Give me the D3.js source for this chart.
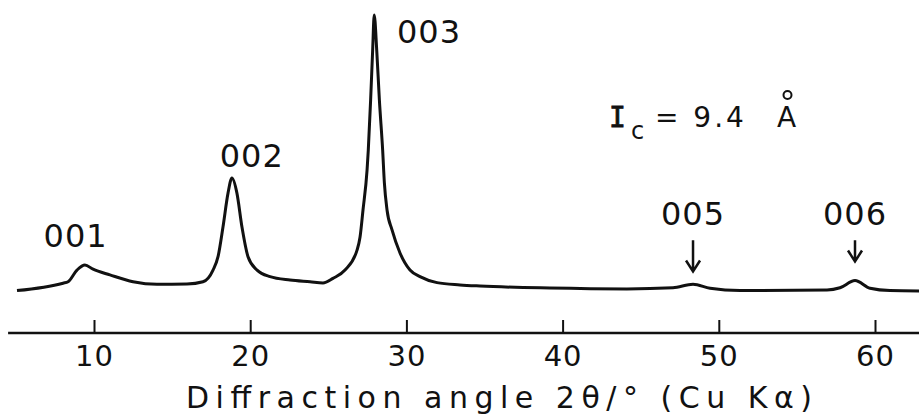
<!DOCTYPE html>
<html>
<head>
<meta charset="utf-8">
<script src="https://cdn.jsdelivr.net/npm/d3@7"></script>
<style>
  html, body { margin: 0; padding: 0; background: #fff; }
  svg { display: block; }
  text { font-family: "DejaVu Sans", "Liberation Sans", sans-serif; fill: #111; }
</style>
</head>
<body>
<svg id="chart" width="919" height="416"></svg>
<script>
// ---- data ----
const twoTheta = [5.07, 8.02, 8.34, 8.91, 9.42, 9.94, 11.02, 12.50, 14.03, 15.95, 16.98, 17.62, 17.94, 18.26, 18.58, 18.83, 19.15, 19.47, 19.86, 20.44, 21.27, 22.55, 23.83, 24.66, 25.30, 26.07, 26.84, 27.03, 27.22, 27.48, 27.56, 27.71, 27.84, 27.94, 28.10, 28.27, 28.48, 28.59, 28.76, 29.08, 29.59, 30.23, 30.87, 31.96, 33.43, 34.71, 39.19, 44.12, 47.07, 48.35, 49.44, 51.36, 56.93, 57.76, 58.72, 59.68, 60.96, 62.82];
const intensity = [3.3, 5.9, 6.4, 10.5, 12.3, 10.8, 8.8, 6.4, 5.5, 5.6, 6.4, 10.5, 15.2, 25.7, 37.5, 42.8, 37.5, 25.7, 15.2, 10.5, 8.2, 7.0, 6.4, 6.0, 7.6, 10.5, 17.5, 22.0, 31.5, 45.5, 52.6, 70.2, 87.7, 100, 87.7, 70.2, 52.6, 41.1, 31.6, 24.6, 16.5, 10.5, 8.2, 6.1, 5.3, 4.9, 4.2, 3.9, 4.3, 5.5, 4.1, 3.3, 3.5, 4.3, 6.8, 4.1, 3.3, 3.2];
const tickValues = [10, 20, 30, 40, 50, 60];
const peakLabels = ["001", "002", "003", "005", "006"];
const peakLabelX = [8.82, 20.1, 31.45, 48.35, 58.72];
const peakLabelLevels = [18.6, 46.6, 90.2, 26.3, 26.3];
const arrowPeaks = [48.35, 58.72];
const axisTitle = "Diffraction angle 2θ/° (Cu Kα)";

// ---- scales ----
const svg = d3.select("#chart");
const x = d3.scaleLinear().domain([10, 60]).range([94, 875]);
const y = d3.scaleLinear().domain([0, 100]).range([300, 15]);
const axisY = 333;

// ---- axis ----
const axis = d3.axisBottom(x)
  .tickValues(tickValues)
  .tickSizeInner(-13)
  .tickSizeOuter(0)
  .tickPadding(12)
  .tickFormat(d3.format("d"));
const gAxis = svg.append("g").attr("transform", `translate(0,${axisY})`).call(axis);
gAxis.select(".domain").remove();
gAxis.insert("line", ":first-child")
  .attr("x1", x(4.5)).attr("x2", x(63.3))
  .attr("y1", 0).attr("y2", 0)
  .attr("stroke", "#111").attr("stroke-width", 2.5);
gAxis.selectAll(".tick line").attr("stroke", "#111").attr("stroke-width", 2);
gAxis.selectAll(".tick text")
  .attr("fill", "#111")
  .style("font-size", "29px")
  .style("font-family", "'DejaVu Sans', sans-serif")
  .style("letter-spacing", "1px");

svg.append("text")
  .attr("x", 186).attr("y", 408)
  .attr("textLength", 626).attr("lengthAdjust", "spacing")
  .style("font-size", "30px")
  .text(axisTitle);

// ---- pattern line ----
const pts = twoTheta.map((t, i) => [t, intensity[i]]);
const line = d3.line().x(d => x(d[0])).y(d => y(d[1])).curve(d3.curveMonotoneX);
svg.append("path")
  .datum(pts)
  .attr("d", line)
  .attr("fill", "none")
  .attr("stroke", "#111")
  .attr("stroke-width", 3)
  .attr("stroke-linejoin", "round");

// ---- peak labels ----
svg.selectAll("text.peak")
  .data(peakLabels)
  .join("text")
  .attr("class", "peak")
  .attr("x", (d, i) => x(peakLabelX[i]))
  .attr("y", (d, i) => y(peakLabelLevels[i]))
  .attr("text-anchor", "middle")
  .style("font-size", "32px")
  .style("letter-spacing", "1px")
  .text(d => d);

// ---- arrows ----
const arrowG = svg.selectAll("g.arrow").data(arrowPeaks).join("g").attr("class", "arrow");
arrowG.append("path")
  .attr("d", d => {
    const cx = x(d), top = y(21), tip = y(d < 50 ? 10 : 13.5);
    return `M${cx},${top}L${cx},${tip}M${cx - 7},${tip - 11}L${cx},${tip}L${cx + 7},${tip - 11}`;
  })
  .attr("fill", "none").attr("stroke", "#111").attr("stroke-width", 2.5)
  .attr("stroke-linejoin", "miter");

// ---- lattice constant annotation ----
const ann = svg.append("g");
ann.append("text").attr("x", 609).attr("y", 127).style("font-size", "28px")
  .style("font-family", "'DejaVu Sans Mono', monospace")
  .attr("stroke", "#111").attr("stroke-width", 0.8).text("I");
ann.append("text").attr("x", 631).attr("y", 139).style("font-size", "24px").text("c");
ann.append("text").attr("x", 655).attr("y", 127).style("font-size", "28px").style("letter-spacing", "3px").text("= 9.4");
ann.append("text").attr("x", 777).attr("y", 127).style("font-size", "28px").text("A");
ann.append("circle").attr("cx", 787.5).attr("cy", 95).attr("r", 4)
  .attr("fill", "none").attr("stroke", "#111").attr("stroke-width", 2);
</script>
</body>
</html>
